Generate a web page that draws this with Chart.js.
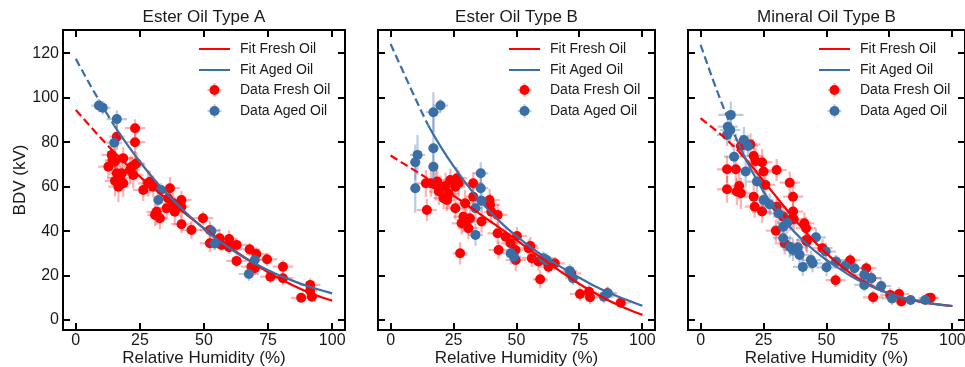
<!DOCTYPE html>
<html>
<head>
<meta charset="utf-8">
<script src="https://cdn.jsdelivr.net/npm/chart.js@4.4.1/dist/chart.umd.min.js"></script>
<style>
  body { margin: 0; background: #fff; }
  canvas { position: absolute; top: 0; }
</style>
</head>
<body>
<canvas id="p0" width="350" height="367" style="left:0px"></canvas>
<canvas id="p1" width="287" height="367" style="left:373px"></canvas>
<canvas id="p2" width="287" height="367" style="left:683px"></canvas>
<script>
// ---- data ----
const xTicks = [0, 25, 50, 75, 100]
const yTicks = [0, 20, 40, 60, 80, 100, 120]
const panelTitles = ["Ester Oil Type A", "Ester Oil Type B", "Mineral Oil Type B"]
const legendLabels = ["Fit Fresh Oil", "Fit Aged Oil", "Data Fresh Oil", "Data Aged Oil"]

// points: [humidity, bdv, xErr, yErr]
const freshA = [
  [12.7,69,4,5],[14,74.3,4,6],[14.4,72,3,5],[15.3,71.3,4,6],[15.3,62.6,4,7],[16,82.5,3,6],[16,66,3,8],
  [16.6,60,4,7],[17.2,63.8,5,6],[17.9,66,4,5],[18.5,72.8,4,5],[18.5,61.5,3,6],[21.1,67.5,4,6],[21.8,69,3,5],
  [22.4,65.3,4,6],[23.1,86.3,4,4],[23.1,80,4,5],[23.1,70,4,6],[23.7,70.5,3,5],[26.3,58.5,4,5],[28.2,61.5,4,6],
  [28.9,62.2,3,5],[30.2,60,4,5],[30.9,47.3,3,5],[31.5,48.7,4,6],[32.8,45.8,3,5],[35.4,50.3,4,5],[36,54.8,3,5],
  [36.7,59.3,4,5],[38,52.5,4,5],[38.6,48.7,3,6],[41.2,54,4,4],[41.2,51,3,5],[41.2,43.1,4,4],[45.1,40.5,4,4],
  [49.6,45.8,4,3],[52.3,40.5,4,4],[52.3,34.5,4,4],[56.1,36.8,3,4],[56.8,33.8,4,3],[59.8,36.4,3,4],[59.8,32.7,4,3],
  [62.7,33.8,4,3],[62.7,26.6,4,3],[67.8,31.8,4,3],[70.4,29.7,4,3],[68.5,24,4,3],[69.8,23.3,3,3],[74.6,27.3,4,3],
  [75.9,19.5,4,3],[80.8,24,4,3],[80.8,18.8,4,3],[87.9,10,4,2],[91.4,15.8,4,3],[91.4,13.2,3,2],[92.1,10.5,4,2]
]
const agedA = [
  [9,96.5,3,3],[10.5,95.5,3,3],[16,90.4,4,4],[15,79.8,3,4],[33.2,58.5,3,3],[32.2,54,2,3],
  [52.9,40,3,3],[54.2,34.4,4,3],[69.8,27,3,3],[67.5,20.7,4,3]
]
const freshB = [
  [14,61.5,4,6],[14.4,49.5,4,5],[16,61.5,4,6],[17.9,60.8,4,7],[18.5,62.3,4,5],[19.2,57.8,4,6],[19.8,60,3,5],
  [21.1,54.8,4,5],[21.8,60.3,4,6],[22.4,54,3,5],[23.7,63,4,5],[23.1,56.8,4,6],[25.7,60,4,5],[26.3,63.8,4,5],
  [27,61.5,3,6],[25.7,50.3,4,5],[27.6,30,3,5],[29.6,52.5,4,6],[28.9,46.5,4,7],[30.2,45,4,6],[28.2,43.5,4,5],
  [31.5,45.8,3,5],[30.9,41.3,4,5],[32.8,61.5,4,5],[32.8,55.5,3,6],[36.1,44.3,4,5],[39.3,54,4,5],[39.5,51.8,4,5],
  [40,48.7,3,5],[42.5,47.3,4,5],[42.5,39,4,5],[42.9,31.5,4,4],[45.7,37.5,4,4],[47.7,34.5,4,5],[50.2,37.8,4,4],
  [49.7,27,4,5],[49.6,31.5,3,4],[54.8,32.3,4,4],[55.5,33.3,3,4],[56.1,27.8,4,4],[58.7,26.3,4,4],[59.4,18.3,3,4],
  [62,26.3,4,3],[62.7,24,4,3],[65.2,25.5,4,3],[71.7,21,4,3],[75.2,11.7,4,3],[79.2,10.2,4,3],[78.8,12.7,3,3],
  [86,12,4,3],[91.4,7.8,4,2]
]
const agedB = [
  [19.8,96.5,3,3],[17,93.5,3,9],[17,77.3,2,14],[10.7,74.3,3,9],[9.8,71,2,8],[17,69,2,8],[9.8,59.3,2,11],
  [35.8,66,3,5],[35.8,59.3,3,8],[36.1,53.7,3,5],[33.7,50.3,3,5],[33.7,38.3,3,5],[47.7,30,3,5],[49,28.5,3,4],
  [60.7,27.8,4,3],[62,27,3,3],[71.1,22.1,3,3],[72.4,18.8,3,3],[84.7,10.5,4,3],[86.3,12,3,3]
]
const freshC = [
  [10.5,67.8,4,6],[10.5,58.8,4,6],[14,67.8,4,7],[14.4,57.8,4,6],[16,57,4,7],[15.3,60.3,3,6],[16,78.3,4,5],
  [19.8,79,4,5],[21.1,73.8,4,5],[21.8,71.5,4,6],[24.4,71,4,6],[25,66.8,4,5],[30.2,67.5,4,5],[21.1,55.5,4,6],
  [21.5,51,4,5],[24.4,48.8,4,5],[25.7,60.8,4,6],[30.2,51,4,5],[29.9,40.2,4,5],[32.8,46.5,4,5],[33.4,34.5,4,5],
  [35.4,61.8,4,5],[36.7,55.5,4,6],[36.7,48.8,4,6],[37,45.3,4,5],[35.4,45,3,5],[41.2,43.5,4,5],[41.9,41.3,4,5],
  [41.9,36,4,5],[42.2,35.3,3,5],[48.4,32.3,4,4],[53.6,17.9,4,3],[59.4,26.9,4,3],[65.8,23.3,4,3],[67.8,18.8,4,3],
  [68.5,10.2,4,3],[75.3,11.3,4,3],[78.8,11.7,4,3],[79.7,8.3,4,2],[90.5,9.8,4,2],[91.4,10,3,2]
]
const agedC = [
  [12,92.3,5,6],[10.8,87,4,6],[11.8,85.5,4,5],[10.5,83.3,4,5],[13.3,73.5,4,6],[17.2,81,4,6],[18.8,78.3,4,5],
  [17.9,66.8,3,6],[22.4,62.3,4,5],[25,54,4,5],[27.4,52,4,5],[30.9,48,4,5],[32.8,42,4,5],[34.4,43.8,4,5],
  [32.8,36.8,4,5],[35.4,33,4,5],[36.7,31.5,4,5],[38.6,32.7,4,4],[39.3,29.3,4,4],[40.6,23.9,4,4],[43.8,27,4,4],
  [44.5,25.5,4,4],[45.8,37.2,4,4],[49.7,30.8,4,4],[50,23.7,4,4],[53.8,26.3,4,3],[57.4,24.3,4,3],[61.1,23.3,4,3],
  [65,20.3,4,3],[65,15.8,4,3],[67.8,18.8,4,3],[71.7,15.3,4,3],[76,9.7,4,3],[83.4,9,4,2],[89.2,9,4,2]
]

// fit curves every 5 % RH
const fitX = [0, 5, 10, 15, 20, 25, 30, 35, 40, 45, 50, 55, 60, 65, 70, 75, 80, 85, 90, 95, 100]
const fitFreshA = [94.5, 88.0, 81.6, 75.5, 69.8, 64.5, 59.6, 54.9, 50.3, 45.8, 41.3, 37.0, 32.8, 28.8, 25.0, 21.5, 18.3, 15.4, 12.8, 10.6, 8.7]
const fitAgedA = [117.5, 107.0, 97.0, 87.5, 79.0, 71.2, 64.0, 57.5, 51.6, 46.1, 41.0, 36.4, 32.3, 28.6, 25.3, 22.4, 19.8, 17.5, 15.4, 13.6, 12.0]
const fitFreshB = [74.0, 70.5, 67.0, 63.4, 59.8, 56.0, 52.1, 48.1, 44.1, 40.1, 36.0, 31.9, 27.8, 23.8, 19.9, 16.2, 12.8, 9.7, 7.0, 4.5, 2.3]
const fitAgedB = [124.2, 111.7, 99.3, 87.5, 77.8, 69.2, 61.4, 54.4, 48.1, 42.6, 37.7, 33.3, 29.3, 25.7, 22.3, 19.0, 15.9, 13.2, 10.7, 8.5, 6.4]
const fitFreshC = [90.8, 86.3, 81.5, 76.0, 69.6, 62.6, 55.5, 48.5, 41.8, 35.6, 30.0, 25.0, 20.7, 17.1, 14.2, 11.9, 10.1, 8.7, 7.6, 6.9, 6.3]
const fitAgedC = [123.8, 107.8, 93.0, 79.5, 67.8, 57.8, 49.4, 42.4, 36.5, 31.4, 27.0, 23.2, 19.6, 16.6, 14.0, 11.9, 10.2, 8.8, 7.7, 6.9, 6.3]
// fits are drawn dashed below this humidity (extrapolated part)
const dashEnd = 15

const RED = "#ff0000"
const BLUE = "#3a6ea5"
const RED_ERR = "rgba(255, 0, 0, 0.3)"
const BLUE_ERR = "rgba(58, 110, 165, 0.35)"
const TEXT = "#1a1a1a"

Chart.defaults.font.family = '"Liberation Sans", Arial, Helvetica, sans-serif'
Chart.defaults.color = TEXT

// --- error bars, drawn under each scatter dataset ---
const errorBars = {
  id: "errorBars",
  beforeDatasetDraw(chart, args) {
    const ds = chart.data.datasets[args.index]
    if (!ds.errColor) return
    const { ctx } = chart
    const xs = chart.scales.x
    const ys = chart.scales.y
    ctx.save()
    ctx.strokeStyle = ds.errColor
    ctx.lineWidth = 2.2
    ds.data.forEach((p) => {
      const px = xs.getPixelForValue(p.x)
      const py = ys.getPixelForValue(p.y)
      ctx.beginPath()
      ctx.moveTo(xs.getPixelForValue(p.x - p.xe), py)
      ctx.lineTo(xs.getPixelForValue(p.x + p.xe), py)
      ctx.moveTo(px, ys.getPixelForValue(p.y - p.ye))
      ctx.lineTo(px, ys.getPixelForValue(p.y + p.ye))
      ctx.stroke()
    })
    ctx.restore()
  },
}

// --- box frame with inward ticks on all four sides ---
const frameTicks = {
  id: "frameTicks",
  afterDraw(chart) {
    const { ctx, chartArea: a } = chart
    const xs = chart.scales.x
    const ys = chart.scales.y
    const len = 7
    ctx.save()
    ctx.strokeStyle = "#000"
    ctx.lineWidth = 2
    ctx.beginPath()
    xTicks.forEach((v) => {
      const x = Math.round(xs.getPixelForValue(v))
      ctx.moveTo(x, a.bottom)
      ctx.lineTo(x, a.bottom - len)
      ctx.moveTo(x, a.top)
      ctx.lineTo(x, a.top + len)
    })
    yTicks.forEach((v) => {
      const y = Math.round(ys.getPixelForValue(v))
      ctx.moveTo(a.left, y)
      ctx.lineTo(a.left + len, y)
      ctx.moveTo(a.right, y)
      ctx.lineTo(a.right - len, y)
    })
    ctx.stroke()
    ctx.strokeRect(a.left, a.top, a.right - a.left, a.bottom - a.top)
    ctx.restore()
  },
}

// --- legend in the upper right of the plot area ---
const oilLegend = {
  id: "oilLegend",
  afterDraw(chart) {
    const { ctx, chartArea: a } = chart
    const lx0 = a.right - 146
    const lx1 = a.right - 115
    const mx = a.right - 130.5
    const tx = a.right - 105
    const rows = [19, 40, 60, 81].map((d) => a.top + d)
    ctx.save()
    ctx.lineWidth = 2
    ;[RED, BLUE].forEach((c, i) => {
      ctx.strokeStyle = c
      ctx.beginPath()
      ctx.moveTo(lx0, rows[i])
      ctx.lineTo(lx1, rows[i])
      ctx.stroke()
    })
    ;[[RED, RED_ERR], [BLUE, BLUE_ERR]].forEach(([c, e], i) => {
      const y = rows[i + 2]
      ctx.strokeStyle = e
      ctx.beginPath()
      ctx.moveTo(mx - 7, y)
      ctx.lineTo(mx + 7, y)
      ctx.moveTo(mx, y - 7)
      ctx.lineTo(mx, y + 7)
      ctx.stroke()
      ctx.fillStyle = c
      ctx.beginPath()
      ctx.arc(mx, y, 5, 0, Math.PI * 2)
      ctx.fill()
    })
    ctx.fillStyle = TEXT
    ctx.font = '14px "Liberation Sans", Arial, sans-serif'
    ctx.textBaseline = "middle"
    legendLabels.forEach((t, i) => ctx.fillText(t, tx, rows[i]))
    ctx.restore()
  },
}

const toPts = (arr) => arr.map((p) => ({ x: p[0], y: p[1], xe: p[2], ye: p[3] }))

function fitDataset(ys, color) {
  const data = fitX.map((x, i) => ({ x, y: ys[i] }))
  return {
    type: "line",
    data,
    borderColor: color,
    borderWidth: 2.2,
    pointRadius: 0,
    fill: false,
    cubicInterpolationMode: "monotone",
    segment: {
      borderDash: (ctx) => (data[ctx.p1DataIndex].x <= dashEnd ? [8, 4] : undefined),
    },
  }
}

function makePanel(id, idx, fresh, aged, fitFresh, fitAged) {
  const first = idx === 0
  return new Chart(document.getElementById(id), {
    type: "scatter",
    plugins: [errorBars, frameTicks, oilLegend],
    data: {
      datasets: [
        { ...fitDataset(fitAged, BLUE), order: 1 },
        { ...fitDataset(fitFresh, RED), order: 2 },
        {
          type: "scatter",
          data: toPts(aged),
          backgroundColor: BLUE,
          borderWidth: 0,
          pointRadius: 5,
          errColor: BLUE_ERR,
          order: 3,
        },
        {
          type: "scatter",
          data: toPts(fresh),
          backgroundColor: RED,
          borderWidth: 0,
          pointRadius: 5,
          errColor: RED_ERR,
          order: 4,
        },
      ],
    },
    options: {
      responsive: false,
      animation: false,
      events: [],
      layout: { padding: { left: 0, right: 5, top: 0, bottom: 0 } },
      scales: {
        x: {
          type: "linear",
          min: -5,
          max: 105,
          afterBuildTicks: (s) => { s.ticks = xTicks.map((v) => ({ value: v })) },
          afterFit: (s) => { s.height = 37 },
          grid: { display: false, drawTicks: false },
          border: { display: false },
          ticks: { font: { size: 16 }, padding: 1, color: TEXT, maxRotation: 0 },
          title: {
            display: true,
            text: "Relative Humidity (%)",
            font: { size: 17, lineHeight: 1 },
            padding: { top: 0, bottom: 0.5 },
            color: TEXT,
          },
        },
        y: {
          type: "linear",
          min: -4.5,
          max: 130.5,
          afterBuildTicks: (s) => { s.ticks = yTicks.map((v) => ({ value: v })) },
          afterFit: (s) => { s.width = first ? 63 : 0 },
          grid: { display: false, drawTicks: false },
          border: { display: false },
          ticks: { display: first, font: { size: 16 }, padding: 4, color: TEXT },
          title: {
            display: first,
            text: "BDV (kV)",
            font: { size: 17, lineHeight: 1.2 },
            padding: { top: 10, bottom: 0 },
            color: TEXT,
          },
        },
      },
      plugins: {
        legend: { display: false },
        tooltip: { enabled: false },
        title: {
          display: true,
          text: panelTitles[idx],
          fullSize: false,
          font: { size: 17, weight: "normal", lineHeight: "20px" },
          padding: { top: 7, bottom: 3 },
          color: TEXT,
        },
      },
    },
  })
}

makePanel("p0", 0, freshA, agedA, fitFreshA, fitAgedA)
makePanel("p1", 1, freshB, agedB, fitFreshB, fitAgedB)
makePanel("p2", 2, freshC, agedC, fitFreshC, fitAgedC)
</script>
</body>
</html>
